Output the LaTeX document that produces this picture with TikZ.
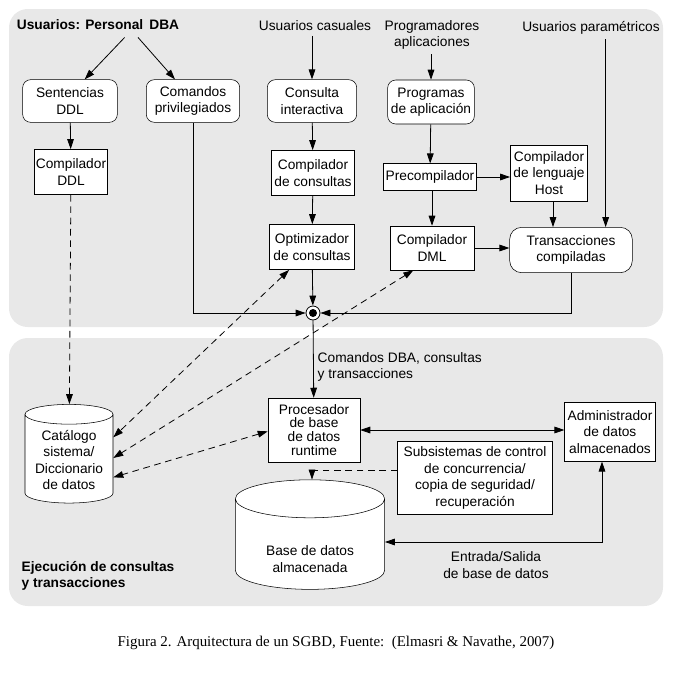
\documentclass[tikz,border=0pt]{standalone}
\usepackage{fontspec}
\setmainfont{Liberation Sans}
\newfontfamily\captionfont{Liberation Serif}
\usetikzlibrary{arrows.meta, positioning, shapes.geometric, calc}

\begin{document}
\begin{tikzpicture}[
    x=0.75pt,y=-0.75pt,
    every node/.style={font=\fontsize{10.3}{12.4}\selectfont},
    myrbox/.style={
        draw,
        rounded corners=6pt,
        minimum width=70pt,
        minimum height=32pt,
        inner sep=1pt,
        align=center,
        fill=white
    },
    mybox/.style={
        draw,
        minimum width=54pt,
        minimum height=34pt,
        inner sep=1pt,
        align=center,
        fill=white
    },
    mycyl/.style={
        cylinder,
        shape border rotate=90,
        draw,
        aspect=0.2,
        inner sep=1pt,
        align=center,
        fill=white
    },
    myarrow/.style={-{Triangle[length=7.5pt,width=5pt]}, line width=0.6pt},
    mydash/.style={{Triangle[length=7.5pt,width=5pt]}-{Triangle[length=7.5pt,width=5pt]}, line width=0.6pt, dash pattern=on 5pt off 3.5pt},
    mybg/.style={fill=black!9, rounded corners=14pt}
]
\useasboundingbox (0,0) rectangle (675,676);

% shaded areas
\fill[mybg] (9,9) rectangle (663,327);
\fill[mybg] (9,338) rectangle (663,606);

% users
\node[font=\fontsize{10.3}{12.4}\selectfont\bfseries] (dba) at (98,25) {Usuarios: Personal\, DBA};
\node (cas) at (315,26) {Usuarios casuales};
\node[align=center] (prg) at (432,35) {Programadores\\aplicaciones};
\node (par) at (591,28) {Usuarios param\'etricos};

% upper boxes
\node[myrbox, minimum width=71pt] (sent) at (70,101) {Sentencias\\DDL};
\node[myrbox] (priv) at (193,101) {Comandos\\privilegiados};
\node[myrbox, minimum width=67pt] (cons) at (312,101) {Consulta\\interactiva};
\node[myrbox, minimum width=65pt, minimum height=33pt] (papp) at (431,102) {Programas\\de aplicaci\'on};

\node[mybox] (cddl) at (71,172) {Compilador\\DDL};
\node[mybox, minimum width=62pt] (ccons) at (313,173) {Compilador\\de consultas};
\node[mybox, minimum width=64pt] (opt) at (312,247) {Optimizador\\de consultas};
\node[mybox, minimum width=70pt, minimum height=20pt] (prec) at (430,177) {Precompilador};
\node[mybox, minimum width=58pt, minimum height=42pt] (host) at (549,173) {Compilador\\de lenguaje\\Host};
\node[mybox, minimum width=63pt, minimum height=33pt] (dml) at (432,248) {Compilador\\DML};
\node[myrbox, rounded corners=9pt, minimum width=92pt, minimum height=34pt] (trans) at (571,250) {Transacciones\\compiladas};

% junction
\node[circle, draw, line width=0.6pt, fill=white, minimum size=10.5pt, inner sep=0pt] (jn) at (313,313) {};
\fill (jn.center) circle (3pt);

% lower boxes
\node[mybox, minimum width=69pt, minimum height=48pt, font=\fontsize{10.3}{10.4}\selectfont] (proc) at (314,430) {Procesador\\de base\\de datos\\runtime};
\node[mybox, minimum width=68pt, minimum height=44pt] (adm) at (610,432) {Administrador\\de datos\\almacenados};
\node[mybox, minimum width=116pt, minimum height=55pt] (sub) at (475,478) {Subsistemas de control\\de concurrencia/\\copia de seguridad/\\recuperaci\'on};
\node[mycyl, aspect=0.28, minimum width=66pt, minimum height=74pt] (cat) at (69,460) {Cat\'alogo\\sistema/\\Diccionario\\de datos};
\node[mycyl, aspect=0.42, minimum width=112pt, minimum height=72pt] (base) at (310,546) {\\[15pt]Base de datos\\almacenada};

% texts
\node[anchor=west, align=left] (cmd) at (313,367) {Comandos DBA, consultas\\y transacciones};
\node[align=center] (es) at (496,565) {Entrada/Salida\\de base de datos};
\node[anchor=west, align=left, font=\fontsize{10.3}{12.4}\selectfont\bfseries] (eje) at (17,576) {Ejecuci\'on de consultas\\y transacciones};
\node[font=\captionfont\fontsize{11.2}{13}\selectfont] (cap) at (336,643) {Figura 2. Arquitectura de un SGBD, Fuente:\ \ (Elmasri \& Navathe, 2007)};

% solid arrows
\draw[myarrow] ([xshift=20pt,yshift=-2pt]dba.south) -- ([xshift=11pt]sent.north);
\draw[myarrow] ([xshift=30pt,yshift=-2pt]dba.south) -- ([xshift=-13.5pt]priv.north);
\draw[myarrow] (cons.north |- cas.south) -- (cons.north);
\draw[myarrow] (sent) -- (cddl);
\draw[myarrow] (cons) -- (ccons);
\draw[myarrow] (ccons) -- (opt);
\draw[myarrow] (opt) -- (jn);
\draw[myarrow] (priv.south) |- (jn.west);
\draw[myarrow] (trans.south) |- (jn.east);
\draw[myarrow] (jn) -- (proc);
\draw[myarrow] (papp.north |- prg.south) -- (papp.north);
\draw[myarrow] (papp) -- (prec);
\draw[myarrow] (prec.south -| dml.north) -- (dml.north);
\draw[myarrow] (prec.east) -- (prec.east -| host.west);
\draw[myarrow] ([xshift=3pt]host.south) -- ([xshift=3pt]host.south |- trans.north);
\draw[myarrow] (dml.east) -- (dml.east -| trans.west);
\draw[myarrow] ([xshift=26pt]trans.north |- par.south) -- ([xshift=26pt]trans.north);
\draw[mydash, solid] (proc.east) -- (proc.east -| adm.west);
\draw[mydash, solid] ([yshift=3pt]base.east) -| ([xshift=-6pt]adm.south);

% dashed arrows
\draw[myarrow, dash pattern=on 5pt off 3.5pt] (cddl) -- (cat);
\draw[mydash] ([xshift=15pt]opt.south west) -- ([yshift=17pt]cat.east);
\draw[mydash] ([xshift=-14pt]dml.south) -- ([yshift=1.5pt]cat.east);
\draw[mydash] ([yshift=-1pt]proc.west) -- ([yshift=-13pt]cat.east);
\draw[myarrow, dash pattern=on 5pt off 3.5pt] ([yshift=6pt]sub.west) -| ([xshift=1.5pt]base.north);

\end{tikzpicture}
\end{document}
